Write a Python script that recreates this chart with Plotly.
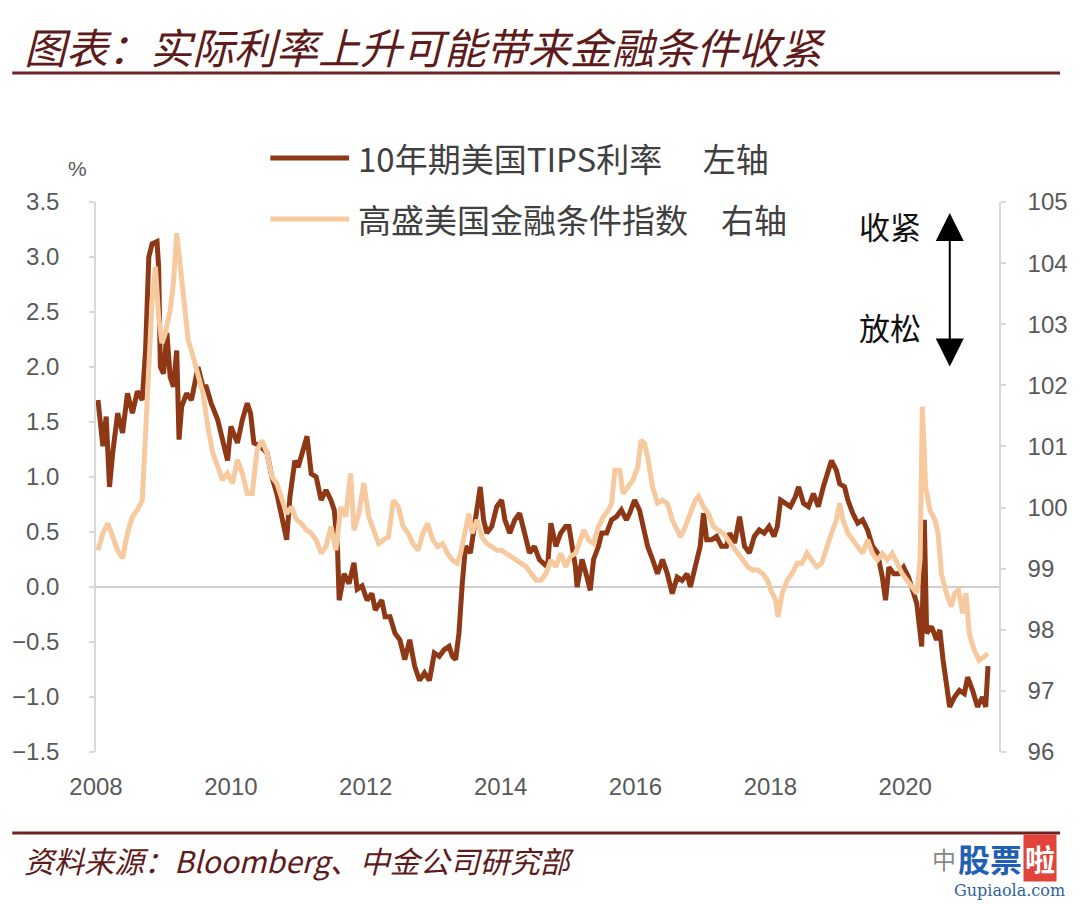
import plotly.graph_objects as go

# ---------------- data ----------------
tips_t = [2008.029, 2008.102, 2008.151, 2008.200, 2008.248, 2008.321, 2008.394, 2008.467, 2008.540, 2008.613,
          2008.686, 2008.735, 2008.783, 2008.832, 2008.905, 2008.929, 2008.954, 2009.002, 2009.051, 2009.100,
          2009.148, 2009.197, 2009.231, 2009.270, 2009.343, 2009.416, 2009.513, 2009.586, 2009.635, 2009.708,
          2009.805, 2009.878, 2009.951, 2010.000, 2010.097, 2010.170, 2010.243, 2010.292, 2010.341, 2010.438,
          2010.535, 2010.608, 2010.681, 2010.754, 2010.827, 2010.876, 2010.949, 2010.998, 2011.071, 2011.129,
          2011.192, 2011.265, 2011.338, 2011.411, 2011.484, 2011.533, 2011.582, 2011.606, 2011.679, 2011.752,
          2011.825, 2011.873, 2011.946, 2012.019, 2012.092, 2012.141, 2012.238, 2012.287, 2012.360, 2012.433,
          2012.506, 2012.579, 2012.652, 2012.725, 2012.798, 2012.871, 2012.944, 2013.017, 2013.090, 2013.163,
          2013.236, 2013.285, 2013.333, 2013.382, 2013.431, 2013.479, 2013.552, 2013.601, 2013.650, 2013.698,
          2013.747, 2013.796, 2013.869, 2013.942, 2014.015, 2014.063, 2014.136, 2014.209, 2014.282, 2014.355,
          2014.428, 2014.501, 2014.574,
          2014.696, 2014.745, 2014.818, 2014.891, 2014.964, 2015.013, 2015.061, 2015.110, 2015.134, 2015.207,
          2015.280, 2015.329, 2015.378, 2015.451, 2015.499, 2015.572, 2015.645, 2015.718, 2015.791, 2015.864,
          2015.913, 2015.986, 2016.059, 2016.108, 2016.180, 2016.253, 2016.326, 2016.400, 2016.472, 2016.545,
          2016.618, 2016.691, 2016.764, 2016.813, 2016.886, 2016.959, 2017.008, 2017.056, 2017.129, 2017.202,
          2017.275, 2017.348, 2017.397, 2017.470, 2017.543, 2017.616, 2017.689, 2017.762, 2017.835, 2017.908,
          2017.981, 2018.054, 2018.103, 2018.151, 2018.224, 2018.297, 2018.370, 2018.419, 2018.492, 2018.565,
          2018.638, 2018.711, 2018.784, 2018.857, 2018.906, 2018.979, 2019.027, 2019.100, 2019.149, 2019.222,
          2019.295, 2019.368, 2019.441, 2019.514, 2019.587, 2019.660, 2019.708, 2019.757, 2019.830, 2019.903,
          2019.976, 2020.049, 2020.122, 2020.171, 2020.244, 2020.283, 2020.317, 2020.390, 2020.463, 2020.512,
          2020.560, 2020.609, 2020.658, 2020.731, 2020.803, 2020.876, 2020.925, 2020.998, 2021.071, 2021.144,
          2021.193, 2021.227]

tips_v = [1.70, 1.28, 1.55, 0.91, 1.22, 1.58, 1.40, 1.76, 1.58, 1.78,
          1.70, 2.15, 3.00, 3.12, 3.14, 2.91, 2.00, 1.94, 2.31, 1.91,
          1.82, 2.15, 1.34, 1.64, 1.76, 1.70, 2.00, 1.82, 1.82, 1.67,
          1.52, 1.34, 1.15, 1.46, 1.31, 1.52, 1.67, 1.58, 1.31, 1.28,
          1.22, 1.00, 0.85, 0.64, 0.43, 0.82, 1.15, 1.09, 1.25, 1.37,
          1.03, 1.00, 0.79, 0.88, 0.79, 0.70, 0.34, -0.12, 0.12, 0.03,
          0.22, -0.02, 0.01, -0.12, -0.06, -0.21, -0.12, -0.27, -0.27, -0.42,
          -0.48, -0.66, -0.48, -0.72, -0.85, -0.78, -0.85, -0.60, -0.63, -0.57,
          -0.54, -0.63, -0.66, -0.42, 0.03, 0.37, 0.31, 0.49, 0.67, 0.91,
          0.61, 0.49, 0.55, 0.73, 0.79, 0.61, 0.49, 0.61, 0.67, 0.49,
          0.31, 0.37, 0.25,
          0.18, 0.58, 0.37, 0.49, 0.55, 0.55, 0.37, 0.18, 0.00, 0.25,
          0.09, -0.03, 0.25, 0.37, 0.49, 0.49, 0.61, 0.64, 0.70, 0.61,
          0.67, 0.79, 0.70, 0.55, 0.37, 0.25, 0.12, 0.25, 0.12, -0.06,
          0.09, 0.06, 0.12, 0.00, 0.18, 0.37, 0.67, 0.43, 0.43, 0.46,
          0.37, 0.37, 0.49, 0.40, 0.64, 0.37, 0.31, 0.46, 0.52, 0.49,
          0.55, 0.46, 0.55, 0.79, 0.76, 0.73, 0.82, 0.91, 0.76, 0.73,
          0.85, 0.73, 0.91, 1.06, 1.15, 1.06, 0.94, 0.91, 0.79, 0.67,
          0.58, 0.61, 0.52, 0.37, 0.31, 0.09, -0.12, 0.18, 0.12, 0.12,
          0.18, 0.09, -0.06, -0.15, -0.54, 0.61, -0.42, -0.36, -0.48, -0.39,
          -0.66, -0.85, -1.09, -1.00, -0.94, -0.97, -0.82, -0.94, -1.09, -1.00,
          -1.09, -0.72]

fci_t = [2008.029, 2008.102, 2008.175, 2008.248, 2008.321, 2008.394, 2008.467, 2008.540, 2008.613, 2008.686,
         2008.735, 2008.783, 2008.832, 2008.881, 2008.929, 2008.978, 2009.027, 2009.100, 2009.148, 2009.197,
         2009.246, 2009.294, 2009.367, 2009.440, 2009.513, 2009.586, 2009.659, 2009.732, 2009.805, 2009.878,
         2009.951, 2010.024, 2010.097, 2010.170, 2010.243, 2010.316, 2010.389, 2010.462, 2010.535, 2010.608,
         2010.681, 2010.754, 2010.827, 2010.900, 2010.973, 2011.046, 2011.119, 2011.192, 2011.265, 2011.338,
         2011.411, 2011.484, 2011.557, 2011.630, 2011.703, 2011.776, 2011.825, 2011.898, 2011.971, 2012.044,
         2012.117, 2012.190, 2012.263, 2012.336, 2012.409, 2012.482, 2012.555, 2012.628, 2012.701, 2012.774,
         2012.847, 2012.920, 2012.993, 2013.066, 2013.139, 2013.212, 2013.285, 2013.358, 2013.406, 2013.479,
         2013.528, 2013.577, 2013.650, 2013.723, 2013.796, 2013.869, 2013.942, 2014.015, 2014.088, 2014.161,
         2014.234, 2014.307, 2014.380, 2014.453, 2014.526,
         2014.599, 2014.672, 2014.745, 2014.818, 2014.891, 2014.964, 2015.037, 2015.110, 2015.183, 2015.232,
         2015.305, 2015.378, 2015.451, 2015.524, 2015.597, 2015.645, 2015.694, 2015.767, 2015.816, 2015.889,
         2015.962, 2016.035, 2016.083, 2016.132, 2016.180, 2016.253, 2016.326, 2016.400, 2016.472, 2016.545,
         2016.618, 2016.667, 2016.740, 2016.813, 2016.886, 2016.935, 2017.008, 2017.081, 2017.154, 2017.227,
         2017.300, 2017.373, 2017.446, 2017.519, 2017.592, 2017.665, 2017.738, 2017.811, 2017.884, 2017.957,
         2018.005, 2018.078, 2018.112, 2018.176, 2018.249, 2018.322, 2018.395, 2018.468, 2018.541, 2018.614,
         2018.687, 2018.760, 2018.832, 2018.906, 2018.979, 2019.027, 2019.076, 2019.149, 2019.222, 2019.295,
         2019.368, 2019.441, 2019.514, 2019.587, 2019.660, 2019.733, 2019.806, 2019.879, 2019.952, 2020.025,
         2020.098, 2020.171, 2020.220, 2020.254, 2020.302, 2020.365, 2020.438, 2020.487, 2020.536, 2020.609,
         2020.682, 2020.731, 2020.789, 2020.852, 2020.901, 2020.949, 2021.022, 2021.095, 2021.168, 2021.227]

fci_v = [99.30, 99.58, 99.74, 99.52, 99.30, 99.17, 99.58, 99.85, 99.96, 100.12,
         101.21, 102.58, 103.40, 103.94, 103.12, 102.69, 102.85, 103.23, 103.67, 104.49,
         103.94, 103.40, 102.74, 102.47, 102.20, 101.87, 101.32, 100.89, 100.67, 100.45,
         100.56, 100.40, 100.78, 100.56, 100.23, 100.23, 100.94, 101.10, 100.89, 100.50,
         100.40, 100.12, 99.90, 100.01, 99.80, 99.74, 99.63, 99.58, 99.47, 99.25,
         99.36, 99.69, 99.30, 100.01, 99.85, 100.56, 99.63, 99.90, 100.40, 99.85,
         99.63, 99.41, 99.47, 99.52, 100.12, 100.01, 99.69, 99.58, 99.41, 99.30,
         99.58, 99.74, 99.47, 99.36, 99.41, 99.25, 99.14, 99.09, 99.25, 99.63,
         99.90, 99.58, 99.80, 99.52, 99.41, 99.36, 99.30, 99.30, 99.25, 99.20,
         99.14, 99.09, 99.03, 98.92, 98.81,
         98.81, 98.92, 99.14, 99.03, 99.25, 99.03, 99.20, 99.25, 99.47, 99.63,
         99.47, 99.41, 99.69, 99.85, 99.96, 100.07, 100.61, 100.61, 100.23, 100.34,
         100.45, 100.67, 101.10, 101.05, 100.83, 100.34, 100.07, 100.12, 100.07, 99.80,
         99.63, 99.52, 99.69, 99.90, 100.12, 100.18, 100.01, 99.90, 99.69, 99.63,
         99.58, 99.47, 99.36, 99.25, 99.14, 99.03, 98.98, 98.98, 98.92, 98.81,
         98.65, 98.49, 98.21, 98.60, 98.81, 98.92, 99.09, 99.09, 99.25, 99.14,
         99.03, 99.09, 99.36, 99.58, 99.80, 100.07, 99.80, 99.58, 99.47, 99.36,
         99.25, 99.47, 99.25, 99.14, 99.25, 99.14, 99.25, 99.09, 98.92, 98.81,
         98.70, 98.60, 99.14, 101.65, 100.34, 99.96, 99.80, 99.58, 98.92, 98.60,
         98.38, 98.60, 98.65, 98.27, 98.60, 97.94, 97.67, 97.50, 97.56, 97.61]

x_tick_vals = [2008, 2010, 2012, 2014, 2016, 2018, 2020]
x_tick_text = ["2008", "2010", "2012", "2014", "2016", "2018", "2020"]

name_tips = "10年期美国TIPS利率"
name_fci = "高盛美国金融条件指数"

assert len(tips_t) == len(tips_v) and len(fci_t) == len(fci_v)

# ---------------- styling ----------------
DARK = "#8E3816"
LIGHT = "#F6CA9E"
AXIS = "#D9D9D9"
TICKC = "#595959"
MAROON = "#5E1B1B"
W, H = 1080, 905
L, R, T, B = 93, 70, 202, 153
PW, PH = W - L - R, H - T - B


def px(x):
    return (x - L) / PW


def py(y):
    return (H - B - y) / PH


FONT = "Liberation Sans, Arial, sans-serif"
CJK = "Noto Sans CJK SC, sans-serif"

fig = go.Figure()
fig.add_trace(go.Scatter(x=tips_t, y=tips_v, mode="lines", name=name_tips,
                         line=dict(color=DARK, width=5), yaxis="y"))
fig.add_trace(go.Scatter(x=fci_t, y=fci_v, mode="lines", name=name_fci,
                         line=dict(color=LIGHT, width=5), yaxis="y2"))

axis_common = dict(showgrid=False, showline=True, linecolor=AXIS, linewidth=1.5,
                   ticks="outside", ticklen=5, tickcolor=AXIS, tickwidth=1.5,
                   tickfont=dict(family=FONT, size=24, color=TICKC))

fig.update_layout(
    width=W, height=H,
    margin=dict(l=L, r=R, t=T, b=B, pad=0),
    paper_bgcolor="white", plot_bgcolor="white",
    showlegend=False,
    xaxis=dict(range=[2008, 2021.39], tickvals=x_tick_vals, ticktext=x_tick_text,
               showgrid=False, showline=False, zeroline=False, ticks="",
               tickfont=dict(family=FONT, size=24, color=TICKC), ticklabelstandoff=18),
    yaxis=dict(range=[-1.5, 3.5], dtick=0.5, tick0=-1.5, tickformat=".1f",
               zeroline=True, zerolinecolor="#CFCFCF", zerolinewidth=1.5,
               ticklabelstandoff=25, **axis_common),
    yaxis2=dict(range=[96, 105], dtick=1, tick0=96, overlaying="y", side="right",
                zeroline=False, ticklabelstandoff=17, **axis_common),
)

shapes = [
    # title rule and footer rule
    dict(type="line", xref="paper", yref="paper", x0=px(8), x1=px(1072), y0=py(73), y1=py(73),
         line=dict(color="#6E2222", width=3)),
    dict(type="line", xref="paper", yref="paper", x0=px(8), x1=px(1072), y0=py(833), y1=py(833),
         line=dict(color="#6E2222", width=3)),
    # legend samples
    dict(type="line", xref="paper", yref="paper", x0=px(270), x1=px(350), y0=py(158), y1=py(158),
         line=dict(color=DARK, width=5)),
    dict(type="line", xref="paper", yref="paper", x0=px(270), x1=px(350), y0=py(219), y1=py(219),
         line=dict(color=LIGHT, width=5)),
]

ann = [
    dict(text="<i>图表：实际利率上升可能带来金融条件收紧</i>", x=px(18), y=py(45),
         font=dict(family=CJK, size=42, color=MAROON)),
    dict(text="<i>资料来源：Bloomberg、中金公司研究部</i>", x=px(18), y=py(860),
         font=dict(family=CJK, size=30, color=MAROON)),
    dict(text="%", x=px(63), y=py(168), font=dict(family=FONT, size=21, color=TICKC)),
    dict(text=name_tips + "\u3000 左轴", x=px(357), y=py(158),
         font=dict(family=CJK, size=33, color="#404040")),
    dict(text=name_fci + "\u3000右轴", x=px(357), y=py(219),
         font=dict(family=CJK, size=33, color="#404040")),
    dict(text="收紧", x=px(866), y=py(225), font=dict(family=CJK, size=31, color="#111111")),
    dict(text="放松", x=px(866), y=py(326), font=dict(family=CJK, size=31, color="#111111")),
    # watermark
    dict(text="中", x=px(940), y=py(858), font=dict(family=CJK, size=24, color="#888888")),
    dict(text="<b>股票</b>", x=px(966), y=py(858), font=dict(family=CJK, size=32, color="#1F5FB5")),
    dict(text="<b>啦</b>", x=px(1034), y=py(858), bgcolor="#E2433B",
         font=dict(family=CJK, size=30, color="white")),
    dict(text="Gupiaola.com", x=px(962), y=py(890), font=dict(family="DejaVu Serif", size=16, color="#2E5FA0")),
]
annotations = []
for a in ann:
    d = dict(xref="paper", yref="paper", xanchor="left", yanchor="middle", showarrow=False)
    d.update(a)
    annotations.append(d)

# double-headed arrow (收紧 / 放松)
annotations.append(dict(xref="paper", yref="paper", x=px(960), y=py(213), ax=0, ay=155,
                        axref="pixel", ayref="pixel", text="", showarrow=True,
                        arrowhead=2, arrowside="end+start", arrowsize=2.8, arrowwidth=2,
                        arrowcolor="#000000", standoff=0, startstandoff=0))

fig.update_layout(shapes=shapes, annotations=annotations)

fig.write_html("out.html", config={"displayModeBar": False},
               post_script="document.body.style.margin='0';document.body.style.overflow='hidden';")
